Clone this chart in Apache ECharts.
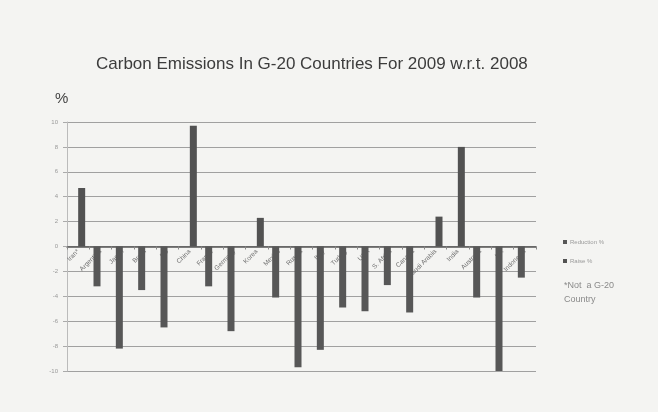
<!DOCTYPE html>
<html>
<head>
<meta charset="utf-8">
<script src="https://cdn.jsdelivr.net/npm/echarts@6/dist/echarts.min.js"></script>
<style>
  html, body { margin: 0; padding: 0; background: #f4f4f2; }
  #chart { width: 658px; height: 412px; }
</style>
</head>
<body>
<div id="chart"></div>
<script>
// Change in carbon emissions, 2009 compared with 2008 (%)
const countries = [
  'Iran*', 'Argentina', 'Japan', 'Brazil', 'EU', 'China', 'France',
  'Germany', 'Korea', 'Mexico', 'Russia', 'Italy', 'Turkey', 'USA',
  'S. Africa', 'Canada', 'Saudi Arabia', 'India', 'Australia', 'UK', 'Indonesia'
];
// Falls in emissions (negative values), '-' where emissions rose
const reduction = [
  '-', -3.2, -8.2, -3.5, -6.5, '-', -3.2,
  -6.8, '-', -4.1, -9.7, -8.3, -4.9, -5.2,
  -3.1, -5.3, '-', '-', -4.1, -10.0, -2.5
];
// Rises in emissions (positive values), '-' where emissions fell
const raise = [
  4.7, '-', '-', '-', '-', 9.7, '-',
  '-', 2.3, '-', '-', '-', '-', '-',
  '-', '-', 2.4, 8.0, '-', '-', '-'
];
const yTicks = { min: -10, max: 10, interval: 2 };

const chart = echarts.init(document.getElementById('chart'), null, { renderer: 'canvas' });
const font = '"Liberation Sans", Arial, sans-serif';

// plot area; the category axis sits on the zero line, halfway down
const plot = { left: 67, right: 122, top: 122, bottom: 41 };
const plotHeight = 412 - plot.top - plot.bottom;

chart.setOption({
  backgroundColor: '#f4f4f2',
  animation: false,
  title: {
    text: 'Carbon Emissions In G-20 Countries For 2009 w.r.t. 2008',
    left: 91,
    top: 51,
    textStyle: { fontFamily: font, fontSize: 17, fontWeight: 'normal', color: '#3c3c3c' }
  },
  legend: {
    data: ['Reduction %', 'Raise %'],
    orient: 'vertical',
    left: 558,
    top: 234,
    itemWidth: 4,
    itemHeight: 4,
    itemGap: 13,
    icon: 'rect',
    textStyle: { fontFamily: font, fontSize: 6, color: '#9a9a9a', padding: [0, 0, 0, -2] }
  },
  graphic: [
    {
      type: 'text',
      left: 55,
      top: 91,
      style: { text: '%', fontFamily: font, fontSize: 15, fill: '#444' }
    },
    {
      type: 'text',
      left: 564,
      top: 279,
      style: {
        text: '*Not  a G-20\nCountry',
        fontFamily: font,
        fontSize: 9,
        lineHeight: 14,
        fill: '#8a8a8a'
      }
    }
  ],
  grid: plot,
  xAxis: {
    type: 'category',
    data: countries,
    position: 'bottom',
    offset: -plotHeight / 2,
    axisLine: { onZero: false, lineStyle: { color: '#555', width: 1.5 } },
    axisTick: { show: true, length: 3, lineStyle: { color: '#888' } },
    axisLabel: {
      rotate: 45,
      interval: 0,
      fontFamily: font,
      fontSize: 6.5,
      color: '#6e6e6e',
      margin: 4
    }
  },
  yAxis: {
    type: 'value',
    min: yTicks.min,
    max: yTicks.max,
    interval: yTicks.interval,
    axisLine: { show: true, lineStyle: { color: '#bbb' } },
    axisTick: { show: true, length: 4, lineStyle: { color: '#aaa' } },
    axisLabel: { fontFamily: font, fontSize: 6, color: '#999', margin: 9 },
    splitLine: { lineStyle: { color: '#a0a0a0', width: 1 } }
  },
  series: [
    {
      name: 'Reduction %',
      type: 'bar',
      data: reduction,
      barWidth: 7,
      barGap: '0%',
      itemStyle: { color: '#575757' }
    },
    {
      name: 'Raise %',
      type: 'bar',
      data: raise,
      barWidth: 7,
      barGap: '0%',
      itemStyle: { color: '#525252' }
    }
  ]
});
</script>
</body>
</html>
